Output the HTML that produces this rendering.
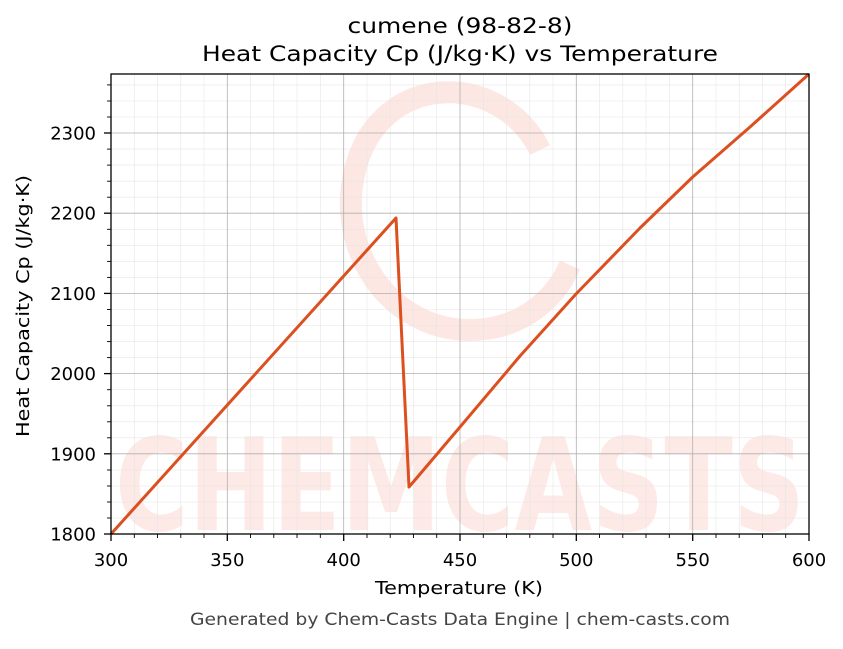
<!DOCTYPE html>
<html><head><meta charset="utf-8"><style>
body{margin:0;background:#fff;}
svg text{font-family:"DejaVu Sans","Liberation Sans",sans-serif;}
</style></head><body>
<svg width="843" height="644" viewBox="0 0 843 644" xmlns="http://www.w3.org/2000/svg">
<rect width="843" height="644" fill="#fff"/>
<g opacity="0.45">
<path d="M540,150 C500,70 380,70 355,170 C335,250 390,330 470,330 C520,330 555,300 570,265" fill="none" stroke="#f9c9c0" stroke-width="22"/>
<text x="460" y="530" font-size="128" font-weight="bold" fill="#fbcfc7" text-anchor="middle" textLength="690" lengthAdjust="spacingAndGlyphs">CHEMCASTS</text>
</g>
<g stroke="#e6e6e6" stroke-width="0.6">
<line x1="134.3" y1="74" x2="134.3" y2="534"/><line x1="157.5" y1="74" x2="157.5" y2="534"/><line x1="180.8" y1="74" x2="180.8" y2="534"/><line x1="204" y1="74" x2="204" y2="534"/>
<line x1="250.5" y1="74" x2="250.5" y2="534"/><line x1="273.8" y1="74" x2="273.8" y2="534"/><line x1="297" y1="74" x2="297" y2="534"/><line x1="320.3" y1="74" x2="320.3" y2="534"/>
<line x1="367" y1="74" x2="367" y2="534"/><line x1="390.2" y1="74" x2="390.2" y2="534"/><line x1="413.5" y1="74" x2="413.5" y2="534"/><line x1="436.7" y1="74" x2="436.7" y2="534"/>
<line x1="483.3" y1="74" x2="483.3" y2="534"/><line x1="506.5" y1="74" x2="506.5" y2="534"/><line x1="529.8" y1="74" x2="529.8" y2="534"/><line x1="553" y1="74" x2="553" y2="534"/>
<line x1="599.5" y1="74" x2="599.5" y2="534"/><line x1="622.8" y1="74" x2="622.8" y2="534"/><line x1="646" y1="74" x2="646" y2="534"/><line x1="669.3" y1="74" x2="669.3" y2="534"/>
<line x1="716" y1="74" x2="716" y2="534"/><line x1="739.2" y1="74" x2="739.2" y2="534"/><line x1="762.5" y1="74" x2="762.5" y2="534"/><line x1="785.7" y1="74" x2="785.7" y2="534"/>
<line x1="111" y1="518" x2="809" y2="518"/><line x1="111" y1="502" x2="809" y2="502"/><line x1="111" y1="486" x2="809" y2="486"/><line x1="111" y1="470" x2="809" y2="470"/>
<line x1="111" y1="437.8" x2="809" y2="437.8"/><line x1="111" y1="421.8" x2="809" y2="421.8"/><line x1="111" y1="405.8" x2="809" y2="405.8"/><line x1="111" y1="389.7" x2="809" y2="389.7"/>
<line x1="111" y1="357.6" x2="809" y2="357.6"/><line x1="111" y1="341.6" x2="809" y2="341.6"/><line x1="111" y1="325.5" x2="809" y2="325.5"/><line x1="111" y1="309.5" x2="809" y2="309.5"/>
<line x1="111" y1="277.4" x2="809" y2="277.4"/><line x1="111" y1="261.4" x2="809" y2="261.4"/><line x1="111" y1="245.3" x2="809" y2="245.3"/><line x1="111" y1="229.3" x2="809" y2="229.3"/>
<line x1="111" y1="197.2" x2="809" y2="197.2"/><line x1="111" y1="181.2" x2="809" y2="181.2"/><line x1="111" y1="165.1" x2="809" y2="165.1"/><line x1="111" y1="149.1" x2="809" y2="149.1"/>
<line x1="111" y1="117" x2="809" y2="117"/><line x1="111" y1="101" x2="809" y2="101"/><line x1="111" y1="84.9" x2="809" y2="84.9"/>
</g>
<g stroke="#b0b0b0" stroke-width="0.8">
<line x1="227.3" y1="74" x2="227.3" y2="534"/><line x1="343.7" y1="74" x2="343.7" y2="534"/><line x1="460" y1="74" x2="460" y2="534"/><line x1="576.3" y1="74" x2="576.3" y2="534"/><line x1="692.7" y1="74" x2="692.7" y2="534"/>
<line x1="111" y1="453.8" x2="809" y2="453.8"/><line x1="111" y1="373.6" x2="809" y2="373.6"/><line x1="111" y1="293.4" x2="809" y2="293.4"/><line x1="111" y1="213.2" x2="809" y2="213.2"/><line x1="111" y1="133" x2="809" y2="133"/>
</g>
<polyline points="111,534 396,218 409,487 460,427 520,356 576,294 640,228 692.7,177 750,127 809,74" fill="none" stroke="#dc5020" stroke-width="3" stroke-linejoin="round"/>
<rect x="111" y="74" width="698" height="460" fill="none" stroke="#000" stroke-width="1.3"/>
<g stroke="#000" stroke-width="1.3">
<line x1="111" y1="534" x2="111" y2="541"/><line x1="227.3" y1="534" x2="227.3" y2="541"/><line x1="343.7" y1="534" x2="343.7" y2="541"/><line x1="460" y1="534" x2="460" y2="541"/><line x1="576.3" y1="534" x2="576.3" y2="541"/><line x1="692.7" y1="534" x2="692.7" y2="541"/><line x1="809" y1="534" x2="809" y2="541"/>
<line x1="104" y1="534" x2="111" y2="534"/><line x1="104" y1="453.8" x2="111" y2="453.8"/><line x1="104" y1="373.6" x2="111" y2="373.6"/><line x1="104" y1="293.4" x2="111" y2="293.4"/><line x1="104" y1="213.2" x2="111" y2="213.2"/><line x1="104" y1="133" x2="111" y2="133"/>
</g>
<g stroke="#000" stroke-width="0.9">
<line x1="134.3" y1="534" x2="134.3" y2="538"/><line x1="157.5" y1="534" x2="157.5" y2="538"/><line x1="180.8" y1="534" x2="180.8" y2="538"/><line x1="204" y1="534" x2="204" y2="538"/>
<line x1="250.5" y1="534" x2="250.5" y2="538"/><line x1="273.8" y1="534" x2="273.8" y2="538"/><line x1="297" y1="534" x2="297" y2="538"/><line x1="320.3" y1="534" x2="320.3" y2="538"/>
<line x1="367" y1="534" x2="367" y2="538"/><line x1="390.2" y1="534" x2="390.2" y2="538"/><line x1="413.5" y1="534" x2="413.5" y2="538"/><line x1="436.7" y1="534" x2="436.7" y2="538"/>
<line x1="483.3" y1="534" x2="483.3" y2="538"/><line x1="506.5" y1="534" x2="506.5" y2="538"/><line x1="529.8" y1="534" x2="529.8" y2="538"/><line x1="553" y1="534" x2="553" y2="538"/>
<line x1="599.5" y1="534" x2="599.5" y2="538"/><line x1="622.8" y1="534" x2="622.8" y2="538"/><line x1="646" y1="534" x2="646" y2="538"/><line x1="669.3" y1="534" x2="669.3" y2="538"/>
<line x1="716" y1="534" x2="716" y2="538"/><line x1="739.2" y1="534" x2="739.2" y2="538"/><line x1="762.5" y1="534" x2="762.5" y2="538"/><line x1="785.7" y1="534" x2="785.7" y2="538"/>
<line x1="107" y1="518" x2="111" y2="518"/><line x1="107" y1="502" x2="111" y2="502"/><line x1="107" y1="486" x2="111" y2="486"/><line x1="107" y1="470" x2="111" y2="470"/>
<line x1="107" y1="437.8" x2="111" y2="437.8"/><line x1="107" y1="421.8" x2="111" y2="421.8"/><line x1="107" y1="405.8" x2="111" y2="405.8"/><line x1="107" y1="389.7" x2="111" y2="389.7"/>
<line x1="107" y1="357.6" x2="111" y2="357.6"/><line x1="107" y1="341.6" x2="111" y2="341.6"/><line x1="107" y1="325.5" x2="111" y2="325.5"/><line x1="107" y1="309.5" x2="111" y2="309.5"/>
<line x1="107" y1="277.4" x2="111" y2="277.4"/><line x1="107" y1="261.4" x2="111" y2="261.4"/><line x1="107" y1="245.3" x2="111" y2="245.3"/><line x1="107" y1="229.3" x2="111" y2="229.3"/>
<line x1="107" y1="197.2" x2="111" y2="197.2"/><line x1="107" y1="181.2" x2="111" y2="181.2"/><line x1="107" y1="165.1" x2="111" y2="165.1"/><line x1="107" y1="149.1" x2="111" y2="149.1"/>
<line x1="107" y1="117" x2="111" y2="117"/><line x1="107" y1="101" x2="111" y2="101"/><line x1="107" y1="84.9" x2="111" y2="84.9"/>
</g>
<g font-size="18" fill="#000">
<text x="111" y="566" text-anchor="middle">300</text><text x="227.3" y="566" text-anchor="middle">350</text><text x="343.7" y="566" text-anchor="middle">400</text><text x="460" y="566" text-anchor="middle">450</text><text x="576.3" y="566" text-anchor="middle">500</text><text x="692.7" y="566" text-anchor="middle">550</text><text x="809" y="566" text-anchor="middle">600</text>
<text x="96" y="540.5" text-anchor="end">1800</text><text x="96" y="460.3" text-anchor="end">1900</text><text x="96" y="380.1" text-anchor="end">2000</text><text x="96" y="299.9" text-anchor="end">2100</text><text x="96" y="219.7" text-anchor="end">2200</text><text x="96" y="139.5" text-anchor="end">2300</text>
<text x="459" y="594" text-anchor="middle" font-size="18" textLength="168" lengthAdjust="spacingAndGlyphs">Temperature (K)</text>
<text x="29" y="306" text-anchor="middle" font-size="18" transform="rotate(-90 29 306)" textLength="262" lengthAdjust="spacingAndGlyphs">Heat Capacity Cp (J/kg·K)</text>
<text x="460" y="33" text-anchor="middle" font-size="21" textLength="225" lengthAdjust="spacingAndGlyphs">cumene (98-82-8)</text>
<text x="460" y="61" text-anchor="middle" font-size="21" textLength="516" lengthAdjust="spacingAndGlyphs">Heat Capacity Cp (J/kg·K) vs Temperature</text>
<text x="460" y="625" text-anchor="middle" font-size="16.5" fill="#444" textLength="540" lengthAdjust="spacingAndGlyphs">Generated by Chem-Casts Data Engine | chem-casts.com</text>
</g>
</svg>
</body></html>
